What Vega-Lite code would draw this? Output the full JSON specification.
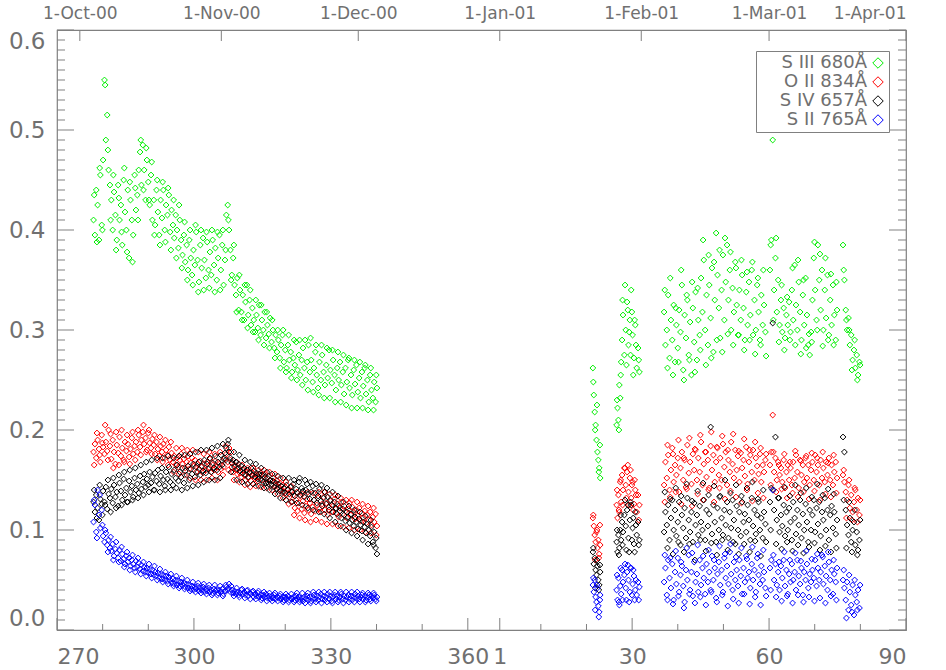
{
  "$schema": "https://vega.github.io/schema/vega-lite/v6.json",
  "width": 849,
  "height": 600,
  "autosize": {"type": "none"},
  "padding": {"left": 57, "top": 30, "right": 40, "bottom": 40},
  "background": "white",
  "config": {
    "view": {"stroke": "#808080", "strokeWidth": 1.2},
    "axis": {"grid": false, "domain": false, "ticks": false, "tickSize": 0, "labelFont": "DejaVu Sans", "labelColor": "#707070", "title": null}
  },
  "datasets": {
    "ymajor": [{"v":0},{"v":0.1},{"v":0.2},{"v":0.3},{"v":0.4},{"v":0.5},{"v":0.6}],
    "yminor": [{"v":0.01},{"v":0.02},{"v":0.03},{"v":0.04},{"v":0.05},{"v":0.06},{"v":0.07},{"v":0.08},{"v":0.09},
               {"v":0.11},{"v":0.12},{"v":0.13},{"v":0.14},{"v":0.15},{"v":0.16},{"v":0.17},{"v":0.18},{"v":0.19},
               {"v":0.21},{"v":0.22},{"v":0.23},{"v":0.24},{"v":0.25},{"v":0.26},{"v":0.27},{"v":0.28},{"v":0.29},
               {"v":0.31},{"v":0.32},{"v":0.33},{"v":0.34},{"v":0.35},{"v":0.36},{"v":0.37},{"v":0.38},{"v":0.39},
               {"v":0.41},{"v":0.42},{"v":0.43},{"v":0.44},{"v":0.45},{"v":0.46},{"v":0.47},{"v":0.48},{"v":0.49},
               {"v":0.51},{"v":0.52},{"v":0.53},{"v":0.54},{"v":0.55},{"v":0.56},{"v":0.57},{"v":0.58},{"v":0.59}],
    "xmajor": [{"day":270},{"day":300},{"day":330},{"day":360},{"day":367},{"day":396},{"day":426},{"day":456}],
    "xminor": [{"day":280},{"day":290},{"day":310},{"day":320},{"day":340},{"day":350},{"day":376},{"day":386},{"day":406},{"day":416},{"day":436},{"day":446}],
    "months": [{"day":275},{"day":306},{"day":336},{"day":367},{"day":398},{"day":426},{"day":456}],
    "obs": [
      {"day":278.0,"s3":0.41,"o2":0.178,"s4":0.128,"s2":0.108},
      {"day":278.15,"s3":0.435,"o2":0.165,"s4":0.14,"s2":0.13},
      {"day":278.3,"s3":0.395,"o2":0.186,"s4":0.118,"s2":0.125},
      {"day":278.6,"s3":0.44,"o2":0.172,"s4":0.135,"s2":0.098},
      {"day":278.75,"s3":0.388,"o2":0.197,"s4":0.112,"s2":0.092},
      {"day":278.9,"s3":0.425,"o2":0.19,"s4":0.122,"s2":0.14},
      {"day":279.2,"s3":0.39,"o2":0.181,"s4":0.11,"s2":0.115},
      {"day":279.35,"s3":0.462,"o2":0.175,"s4":0.145,"s2":0.135},
      {"day":279.5,"s3":0.455,"o2":0.168,"s4":0.131,"s2":0.102},
      {"day":279.8,"s3":0.405,"o2":0.195,"s4":0.126,"s2":0.12},
      {"day":279.95,"s3":0.4,"o2":0.187,"s4":0.115,"s2":0.105},
      {"day":280.1,"s3":0.47,"o2":0.183,"s4":0.139,"s2":0.094},
      {"day":280.4,"s3":0.55,"o2":0.176,"s4":0.128,"s2":0.088},
      {"day":280.55,"s3":0.545,"o2":0.205,"s4":0.125,"s2":0.1},
      {"day":280.7,"s3":0.49,"o2":0.188,"s4":0.143,"s2":0.097},
      {"day":281.0,"s3":0.515,"o2":0.179,"s4":0.121,"s2":0.085},
      {"day":281.15,"s3":0.48,"o2":0.17,"s4":0.15,"s2":0.078},
      {"day":281.3,"s3":0.46,"o2":0.2,"s4":0.136,"s2":0.09},
      {"day":281.6,"s3":0.445,"o2":0.184,"s4":0.132,"s2":0.082},
      {"day":281.75,"s3":0.41,"o2":0.196,"s4":0.118,"s2":0.093},
      {"day":281.9,"s3":0.43,"o2":0.171,"s4":0.141,"s2":0.079},
      {"day":282.2,"s3":0.4,"o2":0.19,"s4":0.127,"s2":0.086},
      {"day":282.35,"s3":0.455,"o2":0.162,"s4":0.152,"s2":0.07},
      {"day":282.5,"s3":0.438,"o2":0.178,"s4":0.145,"s2":0.074},
      {"day":282.8,"s3":0.415,"o2":0.166,"s4":0.133,"s2":0.081},
      {"day":282.95,"s3":0.38,"o2":0.198,"s4":0.122,"s2":0.088},
      {"day":283.1,"s3":0.39,"o2":0.185,"s4":0.138,"s2":0.077},
      {"day":283.4,"s3":0.445,"o2":0.177,"s4":0.124,"s2":0.072},
      {"day":283.55,"s3":0.432,"o2":0.165,"s4":0.155,"s2":0.068},
      {"day":283.7,"s3":0.41,"o2":0.193,"s4":0.147,"s2":0.08},
      {"day":284.0,"s3":0.425,"o2":0.174,"s4":0.139,"s2":0.069},
      {"day":284.15,"s3":0.398,"o2":0.2,"s4":0.125,"s2":0.083},
      {"day":284.3,"s3":0.385,"o2":0.182,"s4":0.13,"s2":0.076},
      {"day":284.6,"s3":0.45,"o2":0.17,"s4":0.151,"s2":0.071},
      {"day":284.75,"s3":0.462,"o2":0.168,"s4":0.158,"s2":0.063},
      {"day":284.9,"s3":0.418,"o2":0.188,"s4":0.135,"s2":0.066},
      {"day":285.2,"s3":0.4,"o2":0.179,"s4":0.142,"s2":0.074},
      {"day":285.35,"s3":0.378,"o2":0.195,"s4":0.128,"s2":0.078},
      {"day":285.5,"s3":0.44,"o2":0.186,"s4":0.128,"s2":0.068},
      {"day":285.8,"s3":0.372,"o2":0.173,"s4":0.149,"s2":0.072},
      {"day":285.95,"s3":0.448,"o2":0.166,"s4":0.16,"s2":0.06},
      {"day":286.1,"s3":0.43,"o2":0.181,"s4":0.138,"s2":0.064},
      {"day":286.4,"s3":0.41,"o2":0.192,"s4":0.144,"s2":0.07},
      {"day":286.55,"s3":0.368,"o2":0.198,"s4":0.13,"s2":0.075},
      {"day":286.7,"s3":0.395,"o2":0.176,"s4":0.133,"s2":0.066},
      {"day":287.0,"s3":0.455,"o2":0.184,"s4":0.152,"s2":0.062},
      {"day":287.15,"s3":0.442,"o2":0.17,"s4":0.162,"s2":0.058},
      {"day":287.3,"s3":0.42,"o2":0.188,"s4":0.14,"s2":0.069},
      {"day":287.6,"s3":0.435,"o2":0.178,"s4":0.146,"s2":0.063},
      {"day":287.75,"s3":0.41,"o2":0.2,"s4":0.132,"s2":0.072},
      {"day":287.9,"s3":0.46,"o2":0.195,"s4":0.137,"s2":0.067},
      {"day":288.2,"s3":0.478,"o2":0.183,"s4":0.154,"s2":0.061},
      {"day":288.35,"s3":0.49,"o2":0.175,"s4":0.165,"s2":0.056},
      {"day":288.5,"s3":0.445,"o2":0.19,"s4":0.141,"s2":0.065},
      {"day":288.8,"s3":0.485,"o2":0.198,"s4":0.148,"s2":0.059},
      {"day":288.95,"s3":0.44,"o2":0.205,"s4":0.135,"s2":0.068},
      {"day":289.1,"s3":0.46,"o2":0.186,"s4":0.156,"s2":0.063},
      {"day":289.4,"s3":0.43,"o2":0.192,"s4":0.143,"s2":0.058},
      {"day":289.55,"s3":0.482,"o2":0.178,"s4":0.168,"s2":0.054},
      {"day":289.7,"s3":0.47,"o2":0.18,"s4":0.151,"s2":0.062},
      {"day":290.0,"s3":0.448,"o2":0.197,"s4":0.145,"s2":0.057},
      {"day":290.15,"s3":0.43,"o2":0.2,"s4":0.138,"s2":0.066},
      {"day":290.3,"s3":0.425,"o2":0.187,"s4":0.158,"s2":0.061},
      {"day":290.6,"s3":0.455,"o2":0.182,"s4":0.147,"s2":0.056},
      {"day":290.75,"s3":0.468,"o2":0.176,"s4":0.17,"s2":0.052},
      {"day":290.9,"s3":0.41,"o2":0.191,"s4":0.153,"s2":0.06},
      {"day":291.2,"s3":0.43,"o2":0.185,"s4":0.14,"s2":0.055},
      {"day":291.35,"s3":0.395,"o2":0.195,"s4":0.14,"s2":0.064},
      {"day":291.5,"s3":0.405,"o2":0.176,"s4":0.157,"s2":0.058},
      {"day":291.8,"s3":0.44,"o2":0.188,"s4":0.149,"s2":0.054},
      {"day":291.95,"s3":0.45,"o2":0.17,"s4":0.172,"s2":0.05},
      {"day":292.1,"s3":0.418,"o2":0.181,"s4":0.16,"s2":0.057},
      {"day":292.4,"s3":0.395,"o2":0.174,"s4":0.146,"s2":0.052},
      {"day":292.55,"s3":0.385,"o2":0.193,"s4":0.138,"s2":0.061},
      {"day":292.7,"s3":0.43,"o2":0.184,"s4":0.154,"s2":0.056},
      {"day":293.0,"s3":0.412,"o2":0.178,"s4":0.162,"s2":0.051},
      {"day":293.15,"s3":0.448,"o2":0.168,"s4":0.172,"s2":0.048},
      {"day":293.3,"s3":0.44,"o2":0.186,"s4":0.15,"s2":0.055},
      {"day":293.6,"s3":0.4,"o2":0.172,"s4":0.144,"s2":0.05},
      {"day":293.75,"s3":0.388,"o2":0.19,"s4":0.14,"s2":0.058},
      {"day":293.9,"s3":0.425,"o2":0.18,"s4":0.158,"s2":0.054},
      {"day":294.2,"s3":0.415,"o2":0.175,"s4":0.151,"s2":0.049},
      {"day":294.35,"s3":0.442,"o2":0.165,"s4":0.174,"s2":0.046},
      {"day":294.5,"s3":0.435,"o2":0.183,"s4":0.163,"s2":0.053},
      {"day":294.8,"s3":0.398,"o2":0.17,"s4":0.148,"s2":0.05},
      {"day":294.95,"s3":0.38,"o2":0.188,"s4":0.14,"s2":0.056},
      {"day":295.1,"s3":0.42,"o2":0.177,"s4":0.156,"s2":0.047},
      {"day":295.4,"s3":0.405,"o2":0.168,"s4":0.145,"s2":0.051},
      {"day":295.55,"s3":0.43,"o2":0.158,"s4":0.172,"s2":0.044},
      {"day":295.7,"s3":0.392,"o2":0.174,"s4":0.16,"s2":0.046},
      {"day":296.0,"s3":0.415,"o2":0.165,"s4":0.152,"s2":0.05},
      {"day":296.15,"s3":0.372,"o2":0.182,"s4":0.142,"s2":0.054},
      {"day":296.3,"s3":0.4,"o2":0.172,"s4":0.165,"s2":0.045},
      {"day":296.6,"s3":0.382,"o2":0.163,"s4":0.149,"s2":0.049},
      {"day":296.75,"s3":0.425,"o2":0.156,"s4":0.174,"s2":0.042},
      {"day":296.9,"s3":0.41,"o2":0.17,"s4":0.158,"s2":0.044},
      {"day":297.2,"s3":0.39,"o2":0.176,"s4":0.153,"s2":0.048},
      {"day":297.35,"s3":0.362,"o2":0.182,"s4":0.14,"s2":0.052},
      {"day":297.5,"s3":0.375,"o2":0.166,"s4":0.162,"s2":0.045},
      {"day":297.8,"s3":0.395,"o2":0.171,"s4":0.147,"s2":0.047},
      {"day":297.95,"s3":0.408,"o2":0.155,"s4":0.175,"s2":0.041},
      {"day":298.1,"s3":0.368,"o2":0.162,"s4":0.159,"s2":0.043},
      {"day":298.4,"s3":0.385,"o2":0.168,"s4":0.155,"s2":0.046},
      {"day":298.55,"s3":0.35,"o2":0.18,"s4":0.142,"s2":0.05},
      {"day":298.7,"s3":0.36,"o2":0.174,"s4":0.164,"s2":0.042},
      {"day":299.0,"s3":0.39,"o2":0.161,"s4":0.15,"s2":0.045},
      {"day":299.15,"s3":0.4,"o2":0.152,"s4":0.176,"s2":0.039},
      {"day":299.3,"s3":0.372,"o2":0.167,"s4":0.161,"s2":0.041},
      {"day":299.6,"s3":0.355,"o2":0.172,"s4":0.156,"s2":0.044},
      {"day":299.75,"s3":0.345,"o2":0.18,"s4":0.144,"s2":0.048},
      {"day":299.9,"s3":0.38,"o2":0.164,"s4":0.166,"s2":0.04},
      {"day":300.2,"s3":0.365,"o2":0.17,"s4":0.153,"s2":0.043},
      {"day":300.35,"s3":0.405,"o2":0.15,"s4":0.178,"s2":0.038},
      {"day":300.5,"s3":0.398,"o2":0.158,"s4":0.163,"s2":0.041},
      {"day":300.8,"s3":0.37,"o2":0.166,"s4":0.158,"s2":0.044},
      {"day":300.95,"s3":0.338,"o2":0.178,"s4":0.145,"s2":0.047},
      {"day":301.1,"s3":0.348,"o2":0.161,"s4":0.168,"s2":0.039},
      {"day":301.4,"s3":0.385,"o2":0.169,"s4":0.155,"s2":0.042},
      {"day":301.55,"s3":0.4,"o2":0.15,"s4":0.18,"s2":0.037},
      {"day":301.7,"s3":0.362,"o2":0.163,"s4":0.164,"s2":0.04},
      {"day":302.0,"s3":0.392,"o2":0.157,"s4":0.159,"s2":0.043},
      {"day":302.15,"s3":0.34,"o2":0.176,"s4":0.148,"s2":0.046},
      {"day":302.3,"s3":0.37,"o2":0.166,"s4":0.17,"s2":0.038},
      {"day":302.6,"s3":0.352,"o2":0.16,"s4":0.157,"s2":0.041},
      {"day":302.75,"s3":0.398,"o2":0.15,"s4":0.18,"s2":0.036},
      {"day":302.9,"s3":0.388,"o2":0.168,"s4":0.166,"s2":0.039},
      {"day":303.2,"s3":0.36,"o2":0.162,"s4":0.161,"s2":0.042},
      {"day":303.35,"s3":0.342,"o2":0.178,"s4":0.15,"s2":0.045},
      {"day":303.5,"s3":0.378,"o2":0.171,"s4":0.172,"s2":0.038},
      {"day":303.8,"s3":0.355,"o2":0.158,"s4":0.158,"s2":0.04},
      {"day":303.95,"s3":0.4,"o2":0.152,"s4":0.182,"s2":0.035},
      {"day":304.1,"s3":0.39,"o2":0.165,"s4":0.167,"s2":0.037},
      {"day":304.4,"s3":0.365,"o2":0.16,"s4":0.162,"s2":0.041},
      {"day":304.55,"s3":0.338,"o2":0.176,"s4":0.15,"s2":0.045},
      {"day":304.7,"s3":0.382,"o2":0.169,"s4":0.174,"s2":0.039},
      {"day":305.0,"s3":0.35,"o2":0.163,"s4":0.16,"s2":0.04},
      {"day":305.15,"s3":0.398,"o2":0.15,"s4":0.184,"s2":0.035},
      {"day":305.3,"s3":0.372,"o2":0.158,"s4":0.168,"s2":0.037},
      {"day":305.6,"s3":0.395,"o2":0.166,"s4":0.163,"s2":0.04},
      {"day":305.75,"s3":0.34,"o2":0.178,"s4":0.152,"s2":0.044},
      {"day":305.9,"s3":0.36,"o2":0.161,"s4":0.175,"s2":0.038},
      {"day":306.2,"s3":0.385,"o2":0.169,"s4":0.165,"s2":0.041},
      {"day":306.35,"s3":0.4,"o2":0.155,"s4":0.186,"s2":0.034},
      {"day":306.5,"s3":0.345,"o2":0.163,"s4":0.171,"s2":0.036},
      {"day":306.8,"s3":0.37,"o2":0.172,"s4":0.177,"s2":0.039},
      {"day":306.95,"s3":0.38,"o2":0.184,"s4":0.17,"s2":0.045},
      {"day":307.1,"s3":0.415,"o2":0.176,"s4":0.182,"s2":0.043},
      {"day":307.4,"s3":0.425,"o2":0.168,"s4":0.186,"s2":0.04},
      {"day":307.55,"s3":0.41,"o2":0.16,"s4":0.19,"s2":0.042},
      {"day":307.7,"s3":0.4,"o2":0.182,"s4":0.178,"s2":0.046},
      {"day":308.0,"s3":0.38,"o2":0.17,"s4":0.172,"s2":0.038},
      {"day":308.15,"s3":0.35,"o2":0.178,"s4":0.158,"s2":0.044},
      {"day":308.3,"s3":0.355,"o2":0.163,"s4":0.167,"s2":0.04},
      {"day":308.6,"s3":0.372,"o2":0.158,"s4":0.17,"s2":0.037},
      {"day":308.75,"s3":0.385,"o2":0.15,"s4":0.178,"s2":0.034},
      {"day":308.9,"s3":0.345,"o2":0.165,"s4":0.163,"s2":0.039},
      {"day":309.2,"s3":0.335,"o2":0.16,"s4":0.168,"s2":0.036},
      {"day":309.35,"s3":0.318,"o2":0.168,"s4":0.15,"s2":0.042},
      {"day":309.5,"s3":0.352,"o2":0.156,"s4":0.161,"s2":0.038},
      {"day":309.8,"s3":0.32,"o2":0.162,"s4":0.166,"s2":0.035},
      {"day":309.95,"s3":0.355,"o2":0.148,"s4":0.175,"s2":0.033},
      {"day":310.1,"s3":0.34,"o2":0.157,"s4":0.159,"s2":0.037},
      {"day":310.4,"s3":0.318,"o2":0.153,"s4":0.164,"s2":0.04},
      {"day":310.55,"s3":0.31,"o2":0.165,"s4":0.148,"s2":0.041},
      {"day":310.7,"s3":0.335,"o2":0.16,"s4":0.157,"s2":0.036},
      {"day":311.0,"s3":0.31,"o2":0.155,"s4":0.162,"s2":0.038},
      {"day":311.15,"s3":0.345,"o2":0.145,"s4":0.17,"s2":0.032},
      {"day":311.3,"s3":0.328,"o2":0.15,"s4":0.155,"s2":0.035},
      {"day":311.6,"s3":0.345,"o2":0.158,"s4":0.16,"s2":0.039},
      {"day":311.75,"s3":0.302,"o2":0.162,"s4":0.146,"s2":0.04},
      {"day":311.9,"s3":0.315,"o2":0.152,"s4":0.153,"s2":0.034},
      {"day":312.2,"s3":0.33,"o2":0.157,"s4":0.158,"s2":0.037},
      {"day":312.35,"s3":0.34,"o2":0.143,"s4":0.168,"s2":0.031},
      {"day":312.5,"s3":0.305,"o2":0.149,"s4":0.162,"s2":0.036},
      {"day":312.8,"s3":0.322,"o2":0.154,"s4":0.155,"s2":0.038},
      {"day":312.95,"s3":0.298,"o2":0.162,"s4":0.146,"s2":0.039},
      {"day":313.1,"s3":0.31,"o2":0.156,"s4":0.159,"s2":0.033},
      {"day":313.4,"s3":0.298,"o2":0.151,"s4":0.153,"s2":0.036},
      {"day":313.55,"s3":0.33,"o2":0.144,"s4":0.166,"s2":0.031},
      {"day":313.7,"s3":0.315,"o2":0.155,"s4":0.157,"s2":0.034},
      {"day":314.0,"s3":0.302,"o2":0.149,"s4":0.151,"s2":0.037},
      {"day":314.15,"s3":0.29,"o2":0.16,"s4":0.144,"s2":0.039},
      {"day":314.3,"s3":0.325,"o2":0.153,"s4":0.156,"s2":0.033},
      {"day":314.6,"s3":0.295,"o2":0.157,"s4":0.15,"s2":0.035},
      {"day":314.75,"s3":0.325,"o2":0.143,"s4":0.162,"s2":0.03},
      {"day":314.9,"s3":0.31,"o2":0.15,"s4":0.155,"s2":0.032},
      {"day":315.2,"s3":0.3,"o2":0.154,"s4":0.148,"s2":0.035},
      {"day":315.35,"s3":0.285,"o2":0.16,"s4":0.142,"s2":0.038},
      {"day":315.5,"s3":0.318,"o2":0.156,"s4":0.153,"s2":0.033},
      {"day":315.8,"s3":0.292,"o2":0.151,"s4":0.147,"s2":0.036},
      {"day":315.95,"s3":0.318,"o2":0.142,"s4":0.158,"s2":0.029},
      {"day":316.1,"s3":0.305,"o2":0.148,"s4":0.152,"s2":0.032},
      {"day":316.4,"s3":0.296,"o2":0.154,"s4":0.146,"s2":0.034},
      {"day":316.55,"s3":0.282,"o2":0.158,"s4":0.14,"s2":0.037},
      {"day":316.7,"s3":0.312,"o2":0.15,"s4":0.15,"s2":0.031},
      {"day":317.0,"s3":0.288,"o2":0.146,"s4":0.145,"s2":0.034},
      {"day":317.15,"s3":0.31,"o2":0.14,"s4":0.156,"s2":0.029},
      {"day":317.3,"s3":0.3,"o2":0.152,"s4":0.149,"s2":0.032},
      {"day":317.6,"s3":0.282,"o2":0.148,"s4":0.143,"s2":0.035},
      {"day":317.75,"s3":0.272,"o2":0.156,"s4":0.136,"s2":0.037},
      {"day":317.9,"s3":0.295,"o2":0.144,"s4":0.147,"s2":0.031},
      {"day":318.2,"s3":0.278,"o2":0.149,"s4":0.141,"s2":0.033},
      {"day":318.35,"s3":0.3,"o2":0.136,"s4":0.154,"s2":0.029},
      {"day":318.5,"s3":0.29,"o2":0.143,"s4":0.146,"s2":0.032},
      {"day":318.8,"s3":0.272,"o2":0.147,"s4":0.139,"s2":0.034},
      {"day":318.95,"s3":0.262,"o2":0.152,"s4":0.132,"s2":0.036},
      {"day":319.1,"s3":0.285,"o2":0.14,"s4":0.144,"s2":0.031},
      {"day":319.4,"s3":0.295,"o2":0.145,"s4":0.138,"s2":0.033},
      {"day":319.55,"s3":0.3,"o2":0.132,"s4":0.152,"s2":0.028},
      {"day":319.7,"s3":0.268,"o2":0.138,"s4":0.142,"s2":0.03},
      {"day":320.0,"s3":0.28,"o2":0.143,"s4":0.137,"s2":0.033},
      {"day":320.15,"s3":0.258,"o2":0.148,"s4":0.13,"s2":0.036},
      {"day":320.3,"s3":0.262,"o2":0.136,"s4":0.145,"s2":0.031},
      {"day":320.6,"s3":0.285,"o2":0.141,"s4":0.14,"s2":0.034},
      {"day":320.75,"s3":0.295,"o2":0.126,"s4":0.152,"s2":0.028},
      {"day":320.9,"s3":0.27,"o2":0.133,"s4":0.136,"s2":0.03},
      {"day":321.2,"s3":0.278,"o2":0.139,"s4":0.143,"s2":0.032},
      {"day":321.35,"s3":0.252,"o2":0.144,"s4":0.128,"s2":0.036},
      {"day":321.5,"s3":0.258,"o2":0.128,"s4":0.138,"s2":0.031},
      {"day":321.8,"s3":0.272,"o2":0.135,"s4":0.146,"s2":0.033},
      {"day":321.95,"s3":0.29,"o2":0.115,"s4":0.15,"s2":0.028},
      {"day":322.1,"s3":0.265,"o2":0.122,"s4":0.134,"s2":0.03},
      {"day":322.4,"s3":0.288,"o2":0.13,"s4":0.141,"s2":0.034},
      {"day":322.55,"s3":0.25,"o2":0.138,"s4":0.127,"s2":0.037},
      {"day":322.7,"s3":0.26,"o2":0.119,"s4":0.137,"s2":0.031},
      {"day":323.0,"s3":0.275,"o2":0.127,"s4":0.148,"s2":0.033},
      {"day":323.15,"s3":0.29,"o2":0.112,"s4":0.152,"s2":0.028},
      {"day":323.3,"s3":0.255,"o2":0.134,"s4":0.135,"s2":0.03},
      {"day":323.6,"s3":0.27,"o2":0.121,"s4":0.142,"s2":0.032},
      {"day":323.75,"s3":0.245,"o2":0.136,"s4":0.125,"s2":0.037},
      {"day":323.9,"s3":0.282,"o2":0.129,"s4":0.139,"s2":0.029},
      {"day":324.2,"s3":0.262,"o2":0.117,"s4":0.133,"s2":0.033},
      {"day":324.35,"s3":0.29,"o2":0.11,"s4":0.15,"s2":0.027},
      {"day":324.5,"s3":0.25,"o2":0.124,"s4":0.14,"s2":0.031},
      {"day":324.8,"s3":0.268,"o2":0.131,"s4":0.146,"s2":0.034},
      {"day":324.95,"s3":0.24,"o2":0.138,"s4":0.122,"s2":0.037},
      {"day":325.1,"s3":0.285,"o2":0.12,"s4":0.136,"s2":0.03},
      {"day":325.4,"s3":0.258,"o2":0.127,"s4":0.131,"s2":0.033},
      {"day":325.55,"s3":0.292,"o2":0.108,"s4":0.148,"s2":0.027},
      {"day":325.7,"s3":0.27,"o2":0.116,"s4":0.138,"s2":0.029},
      {"day":326.0,"s3":0.248,"o2":0.123,"s4":0.144,"s2":0.032},
      {"day":326.15,"s3":0.238,"o2":0.137,"s4":0.12,"s2":0.038},
      {"day":326.3,"s3":0.262,"o2":0.13,"s4":0.13,"s2":0.035},
      {"day":326.6,"s3":0.278,"o2":0.119,"s4":0.137,"s2":0.031},
      {"day":326.75,"s3":0.285,"o2":0.11,"s4":0.146,"s2":0.028},
      {"day":326.9,"s3":0.255,"o2":0.125,"s4":0.127,"s2":0.034},
      {"day":327.2,"s3":0.242,"o2":0.132,"s4":0.134,"s2":0.03},
      {"day":327.35,"s3":0.235,"o2":0.138,"s4":0.118,"s2":0.038},
      {"day":327.5,"s3":0.268,"o2":0.121,"s4":0.141,"s2":0.033},
      {"day":327.8,"s3":0.25,"o2":0.118,"s4":0.129,"s2":0.036},
      {"day":327.95,"s3":0.285,"o2":0.108,"s4":0.145,"s2":0.027},
      {"day":328.1,"s3":0.275,"o2":0.126,"s4":0.124,"s2":0.031},
      {"day":328.4,"s3":0.258,"o2":0.133,"s4":0.132,"s2":0.034},
      {"day":328.55,"s3":0.232,"o2":0.138,"s4":0.116,"s2":0.038},
      {"day":328.7,"s3":0.245,"o2":0.12,"s4":0.138,"s2":0.03},
      {"day":329.0,"s3":0.265,"o2":0.127,"s4":0.126,"s2":0.033},
      {"day":329.15,"s3":0.282,"o2":0.106,"s4":0.142,"s2":0.028},
      {"day":329.3,"s3":0.252,"o2":0.115,"s4":0.133,"s2":0.036},
      {"day":329.6,"s3":0.28,"o2":0.123,"s4":0.12,"s2":0.031},
      {"day":329.75,"s3":0.232,"o2":0.136,"s4":0.112,"s2":0.038},
      {"day":329.9,"s3":0.26,"o2":0.129,"s4":0.13,"s2":0.034},
      {"day":330.2,"s3":0.247,"o2":0.118,"s4":0.125,"s2":0.029},
      {"day":330.35,"s3":0.28,"o2":0.106,"s4":0.138,"s2":0.027},
      {"day":330.5,"s3":0.27,"o2":0.124,"s4":0.118,"s2":0.033},
      {"day":330.8,"s3":0.255,"o2":0.131,"s4":0.128,"s2":0.035},
      {"day":330.95,"s3":0.228,"o2":0.135,"s4":0.108,"s2":0.038},
      {"day":331.1,"s3":0.24,"o2":0.117,"s4":0.122,"s2":0.031},
      {"day":331.4,"s3":0.262,"o2":0.126,"s4":0.116,"s2":0.034},
      {"day":331.55,"s3":0.278,"o2":0.104,"s4":0.134,"s2":0.028},
      {"day":331.7,"s3":0.25,"o2":0.113,"s4":0.124,"s2":0.03},
      {"day":332.0,"s3":0.268,"o2":0.122,"s4":0.119,"s2":0.033},
      {"day":332.15,"s3":0.228,"o2":0.132,"s4":0.104,"s2":0.038},
      {"day":332.3,"s3":0.245,"o2":0.128,"s4":0.112,"s2":0.036},
      {"day":332.6,"s3":0.258,"o2":0.116,"s4":0.121,"s2":0.031},
      {"day":332.75,"s3":0.275,"o2":0.103,"s4":0.128,"s2":0.027},
      {"day":332.9,"s3":0.236,"o2":0.124,"s4":0.115,"s2":0.034},
      {"day":333.2,"s3":0.262,"o2":0.119,"s4":0.109,"s2":0.03},
      {"day":333.35,"s3":0.225,"o2":0.13,"s4":0.1,"s2":0.038},
      {"day":333.5,"s3":0.248,"o2":0.112,"s4":0.118,"s2":0.033},
      {"day":333.8,"s3":0.27,"o2":0.121,"s4":0.113,"s2":0.035},
      {"day":333.95,"s3":0.272,"o2":0.102,"s4":0.124,"s2":0.028},
      {"day":334.1,"s3":0.242,"o2":0.127,"s4":0.107,"s2":0.031},
      {"day":334.4,"s3":0.255,"o2":0.115,"s4":0.116,"s2":0.034},
      {"day":334.55,"s3":0.222,"o2":0.13,"s4":0.097,"s2":0.038},
      {"day":334.7,"s3":0.235,"o2":0.123,"s4":0.11,"s2":0.03},
      {"day":335.0,"s3":0.26,"o2":0.118,"s4":0.104,"s2":0.033},
      {"day":335.15,"s3":0.27,"o2":0.1,"s4":0.12,"s2":0.028},
      {"day":335.3,"s3":0.246,"o2":0.111,"s4":0.113,"s2":0.036},
      {"day":335.6,"s3":0.265,"o2":0.12,"s4":0.108,"s2":0.032},
      {"day":335.75,"s3":0.222,"o2":0.128,"s4":0.094,"s2":0.038},
      {"day":335.9,"s3":0.238,"o2":0.114,"s4":0.101,"s2":0.034},
      {"day":336.2,"s3":0.252,"o2":0.122,"s4":0.111,"s2":0.031},
      {"day":336.35,"s3":0.268,"o2":0.1,"s4":0.118,"s2":0.028},
      {"day":336.5,"s3":0.232,"o2":0.109,"s4":0.105,"s2":0.033},
      {"day":336.8,"s3":0.258,"o2":0.117,"s4":0.099,"s2":0.035},
      {"day":336.95,"s3":0.222,"o2":0.126,"s4":0.09,"s2":0.037},
      {"day":337.1,"s3":0.244,"o2":0.112,"s4":0.108,"s2":0.031},
      {"day":337.4,"s3":0.262,"o2":0.119,"s4":0.103,"s2":0.034},
      {"day":337.55,"s3":0.265,"o2":0.098,"s4":0.114,"s2":0.028},
      {"day":337.7,"s3":0.236,"o2":0.107,"s4":0.097,"s2":0.03},
      {"day":338.0,"s3":0.25,"o2":0.115,"s4":0.106,"s2":0.033},
      {"day":338.15,"s3":0.22,"o2":0.124,"s4":0.086,"s2":0.037},
      {"day":338.3,"s3":0.228,"o2":0.11,"s4":0.1,"s2":0.035},
      {"day":338.6,"s3":0.255,"o2":0.118,"s4":0.094,"s2":0.031},
      {"day":338.75,"s3":0.262,"o2":0.097,"s4":0.11,"s2":0.029},
      {"day":338.9,"s3":0.24,"o2":0.105,"s4":0.103,"s2":0.034},
      {"day":339.2,"s3":0.232,"o2":0.113,"s4":0.088,"s2":0.032},
      {"day":339.35,"s3":0.22,"o2":0.122,"s4":0.085,"s2":0.037},
      {"day":339.5,"s3":0.248,"o2":0.108,"s4":0.098,"s2":0.035},
      {"day":339.8,"s3":0.228,"o2":0.116,"s4":0.082,"s2":0.031},
      {"day":339.95,"s3":0.255,"o2":0.095,"s4":0.092,"s2":0.029},
      {"day":340.1,"s3":0.242,"o2":0.104,"s4":0.076,"s2":0.033},
      {"day":387.4,"s3":0.262,"o2":0.112,"s4":0.078,"s2":0.045},
      {"day":387.5,"s3":0.248,"o2":0.115,"s4":0.082,"s2":0.052},
      {"day":387.6,"s3":0.235,"o2":0.104,"s4":0.066,"s2":0.038},
      {"day":387.8,"s3":0.218,"o2":0.095,"s4":0.072,"s2":0.05},
      {"day":387.9,"s3":0.2,"o2":0.07,"s4":0.042,"s2":0.02},
      {"day":388.0,"s3":0.205,"o2":0.088,"s4":0.06,"s2":0.033},
      {"day":388.2,"s3":0.19,"o2":0.098,"s4":0.055,"s2":0.028},
      {"day":388.3,"s3":0.225,"o2":0.1,"s4":0.07,"s2":0.045},
      {"day":388.4,"s3":0.178,"o2":0.082,"s4":0.064,"s2":0.042},
      {"day":388.6,"s3":0.17,"o2":0.09,"s4":0.05,"s2":0.024},
      {"day":388.7,"s3":0.158,"o2":0.072,"s4":0.04,"s2":0.013},
      {"day":388.8,"s3":0.162,"o2":0.076,"s4":0.045,"s2":0.018},
      {"day":388.95,"s3":0.185,"o2":0.105,"s4":0.065,"s2":0.03},
      {"day":389.0,"s3":0.152,"o2":0.085,"s4":0.058,"s2":0.035},
      {"day":392.6,"s3":0.205,"o2":0.125,"s4":0.088,"s2":0.04},
      {"day":392.7,"s3":0.23,"o2":0.14,"s4":0.1,"s2":0.055},
      {"day":392.8,"s3":0.222,"o2":0.112,"s4":0.078,"s2":0.03},
      {"day":393.0,"s3":0.21,"o2":0.135,"s4":0.095,"s2":0.052},
      {"day":393.1,"s3":0.2,"o2":0.12,"s4":0.075,"s2":0.028},
      {"day":393.2,"s3":0.245,"o2":0.118,"s4":0.082,"s2":0.025},
      {"day":393.4,"s3":0.232,"o2":0.148,"s4":0.1,"s2":0.044},
      {"day":393.5,"s3":0.255,"o2":0.15,"s4":0.115,"s2":0.062},
      {"day":393.6,"s3":0.268,"o2":0.128,"s4":0.09,"s2":0.036},
      {"day":393.8,"s3":0.29,"o2":0.155,"s4":0.108,"s2":0.06},
      {"day":393.9,"s3":0.33,"o2":0.125,"s4":0.085,"s2":0.03},
      {"day":394.0,"s3":0.315,"o2":0.14,"s4":0.098,"s2":0.048},
      {"day":394.3,"s3":0.275,"o2":0.162,"s4":0.115,"s2":0.055},
      {"day":394.45,"s3":0.345,"o2":0.162,"s4":0.13,"s2":0.066},
      {"day":394.6,"s3":0.3,"o2":0.145,"s4":0.104,"s2":0.042},
      {"day":394.75,"s3":0.265,"o2":0.132,"s4":0.08,"s2":0.03},
      {"day":394.9,"s3":0.328,"o2":0.158,"s4":0.12,"s2":0.058},
      {"day":395.05,"s3":0.32,"o2":0.165,"s4":0.125,"s2":0.065},
      {"day":395.2,"s3":0.285,"o2":0.138,"s4":0.092,"s2":0.05},
      {"day":395.35,"s3":0.298,"o2":0.125,"s4":0.078,"s2":0.028},
      {"day":395.5,"s3":0.31,"o2":0.152,"s4":0.11,"s2":0.038},
      {"day":395.65,"s3":0.275,"o2":0.16,"s4":0.128,"s2":0.062},
      {"day":395.8,"s3":0.34,"o2":0.132,"s4":0.125,"s2":0.062},
      {"day":395.95,"s3":0.318,"o2":0.145,"s4":0.09,"s2":0.035},
      {"day":396.1,"s3":0.295,"o2":0.148,"s4":0.102,"s2":0.046},
      {"day":396.25,"s3":0.255,"o2":0.12,"s4":0.112,"s2":0.06},
      {"day":396.4,"s3":0.272,"o2":0.126,"s4":0.086,"s2":0.054},
      {"day":396.55,"s3":0.31,"o2":0.15,"s4":0.078,"s2":0.03},
      {"day":396.7,"s3":0.305,"o2":0.14,"s4":0.118,"s2":0.04},
      {"day":396.85,"s3":0.285,"o2":0.135,"s4":0.105,"s2":0.05},
      {"day":397.0,"s3":0.262,"o2":0.118,"s4":0.095,"s2":0.035},
      {"day":397.3,"s3":0.282,"o2":0.135,"s4":0.108,"s2":0.048},
      {"day":397.45,"s3":0.27,"o2":0.11,"s4":0.085,"s2":0.03},
      {"day":397.6,"s3":0.258,"o2":0.125,"s4":0.09,"s2":0.043},
      {"day":403.0,"s3":0.318,"o2":0.145,"s4":0.098,"s2":0.048},
      {"day":403.15,"s3":0.34,"o2":0.128,"s4":0.138,"s2":0.075},
      {"day":403.3,"s3":0.285,"o2":0.168,"s4":0.118,"s2":0.062},
      {"day":403.6,"s3":0.3,"o2":0.152,"s4":0.105,"s2":0.035},
      {"day":403.75,"s3":0.262,"o2":0.185,"s4":0.082,"s2":0.03},
      {"day":403.9,"s3":0.335,"o2":0.175,"s4":0.125,"s2":0.07},
      {"day":404.2,"s3":0.272,"o2":0.14,"s4":0.09,"s2":0.052},
      {"day":404.35,"s3":0.352,"o2":0.133,"s4":0.131,"s2":0.072},
      {"day":404.5,"s3":0.31,"o2":0.16,"s4":0.112,"s2":0.042},
      {"day":404.8,"s3":0.29,"o2":0.182,"s4":0.13,"s2":0.066},
      {"day":404.95,"s3":0.255,"o2":0.176,"s4":0.076,"s2":0.026},
      {"day":405.1,"s3":0.325,"o2":0.148,"s4":0.1,"s2":0.03},
      {"day":405.4,"s3":0.268,"o2":0.165,"s4":0.12,"s2":0.058},
      {"day":405.55,"s3":0.322,"o2":0.138,"s4":0.142,"s2":0.079},
      {"day":405.7,"s3":0.305,"o2":0.155,"s4":0.094,"s2":0.046},
      {"day":406.0,"s3":0.282,"o2":0.172,"s4":0.108,"s2":0.072},
      {"day":406.15,"s3":0.268,"o2":0.19,"s4":0.088,"s2":0.034},
      {"day":406.3,"s3":0.32,"o2":0.138,"s4":0.128,"s2":0.038},
      {"day":406.6,"s3":0.298,"o2":0.162,"s4":0.085,"s2":0.055},
      {"day":406.75,"s3":0.36,"o2":0.126,"s4":0.134,"s2":0.068},
      {"day":406.9,"s3":0.345,"o2":0.178,"s4":0.115,"s2":0.064},
      {"day":407.2,"s3":0.26,"o2":0.15,"s4":0.102,"s2":0.044},
      {"day":407.35,"s3":0.25,"o2":0.172,"s4":0.078,"s2":0.022},
      {"day":407.5,"s3":0.315,"o2":0.17,"s4":0.122,"s2":0.028},
      {"day":407.8,"s3":0.292,"o2":0.143,"s4":0.092,"s2":0.06},
      {"day":407.95,"s3":0.335,"o2":0.141,"s4":0.146,"s2":0.082},
      {"day":408.1,"s3":0.33,"o2":0.185,"s4":0.132,"s2":0.05},
      {"day":408.4,"s3":0.275,"o2":0.157,"s4":0.11,"s2":0.075},
      {"day":408.55,"s3":0.27,"o2":0.192,"s4":0.086,"s2":0.036},
      {"day":408.7,"s3":0.308,"o2":0.168,"s4":0.098,"s2":0.04},
      {"day":409.0,"s3":0.255,"o2":0.146,"s4":0.118,"s2":0.058},
      {"day":409.15,"s3":0.348,"o2":0.124,"s4":0.129,"s2":0.077},
      {"day":409.3,"s3":0.322,"o2":0.176,"s4":0.088,"s2":0.034},
      {"day":409.6,"s3":0.288,"o2":0.16,"s4":0.127,"s2":0.068},
      {"day":409.75,"s3":0.258,"o2":0.181,"s4":0.07,"s2":0.027},
      {"day":409.9,"s3":0.338,"o2":0.18,"s4":0.105,"s2":0.048},
      {"day":410.2,"s3":0.27,"o2":0.15,"s4":0.115,"s2":0.056},
      {"day":410.35,"s3":0.342,"o2":0.136,"s4":0.139,"s2":0.085},
      {"day":410.5,"s3":0.31,"o2":0.172,"s4":0.095,"s2":0.038},
      {"day":410.8,"s3":0.295,"o2":0.158,"s4":0.124,"s2":0.07},
      {"day":410.95,"s3":0.28,"o2":0.195,"s4":0.09,"s2":0.033},
      {"day":411.1,"s3":0.352,"o2":0.188,"s4":0.108,"s2":0.045},
      {"day":411.4,"s3":0.318,"o2":0.145,"s4":0.1,"s2":0.062},
      {"day":411.55,"s3":0.39,"o2":0.13,"s4":0.147,"s2":0.074},
      {"day":411.7,"s3":0.37,"o2":0.166,"s4":0.13,"s2":0.052},
      {"day":412.0,"s3":0.3,"o2":0.178,"s4":0.09,"s2":0.036},
      {"day":412.15,"s3":0.265,"o2":0.178,"s4":0.079,"s2":0.025},
      {"day":412.3,"s3":0.335,"o2":0.153,"s4":0.12,"s2":0.066},
      {"day":412.6,"s3":0.285,"o2":0.17,"s4":0.104,"s2":0.048},
      {"day":412.75,"s3":0.375,"o2":0.14,"s4":0.135,"s2":0.08},
      {"day":412.9,"s3":0.345,"o2":0.142,"s4":0.116,"s2":0.058},
      {"day":413.2,"s3":0.312,"o2":0.184,"s4":0.203,"s2":0.04},
      {"day":413.35,"s3":0.272,"o2":0.198,"s4":0.087,"s2":0.038},
      {"day":413.5,"s3":0.362,"o2":0.16,"s4":0.096,"s2":0.074},
      {"day":413.8,"s3":0.278,"o2":0.175,"s4":0.125,"s2":0.05},
      {"day":413.95,"s3":0.368,"o2":0.128,"s4":0.144,"s2":0.07},
      {"day":414.1,"s3":0.33,"o2":0.148,"s4":0.108,"s2":0.062},
      {"day":414.4,"s3":0.397,"o2":0.168,"s4":0.088,"s2":0.032},
      {"day":414.55,"s3":0.29,"o2":0.183,"s4":0.075,"s2":0.028},
      {"day":414.7,"s3":0.355,"o2":0.182,"s4":0.122,"s2":0.056},
      {"day":415.0,"s3":0.322,"o2":0.155,"s4":0.1,"s2":0.068},
      {"day":415.15,"s3":0.38,"o2":0.142,"s4":0.133,"s2":0.084},
      {"day":415.3,"s3":0.292,"o2":0.172,"s4":0.134,"s2":0.045},
      {"day":415.6,"s3":0.34,"o2":0.15,"s4":0.112,"s2":0.06},
      {"day":415.75,"s3":0.278,"o2":0.194,"s4":0.09,"s2":0.035},
      {"day":415.9,"s3":0.375,"o2":0.186,"s4":0.095,"s2":0.038},
      {"day":416.2,"s3":0.31,"o2":0.163,"s4":0.12,"s2":0.072},
      {"day":416.35,"s3":0.392,"o2":0.131,"s4":0.15,"s2":0.076},
      {"day":416.5,"s3":0.348,"o2":0.178,"s4":0.105,"s2":0.052},
      {"day":416.8,"s3":0.385,"o2":0.145,"s4":0.128,"s2":0.064},
      {"day":416.95,"s3":0.296,"o2":0.18,"s4":0.08,"s2":0.024},
      {"day":417.1,"s3":0.33,"o2":0.17,"s4":0.092,"s2":0.046},
      {"day":417.4,"s3":0.36,"o2":0.158,"s4":0.118,"s2":0.078},
      {"day":417.55,"s3":0.378,"o2":0.139,"s4":0.137,"s2":0.086},
      {"day":417.7,"s3":0.3,"o2":0.188,"s4":0.102,"s2":0.056},
      {"day":418.0,"s3":0.342,"o2":0.166,"s4":0.13,"s2":0.04},
      {"day":418.15,"s3":0.285,"o2":0.196,"s4":0.088,"s2":0.031},
      {"day":418.3,"s3":0.318,"o2":0.152,"s4":0.11,"s2":0.068},
      {"day":418.6,"s3":0.368,"o2":0.18,"s4":0.086,"s2":0.05},
      {"day":418.75,"s3":0.362,"o2":0.133,"s4":0.145,"s2":0.073},
      {"day":418.9,"s3":0.325,"o2":0.16,"s4":0.124,"s2":0.06},
      {"day":419.2,"s3":0.295,"o2":0.174,"s4":0.1,"s2":0.044},
      {"day":419.35,"s3":0.295,"o2":0.179,"s4":0.076,"s2":0.027},
      {"day":419.5,"s3":0.34,"o2":0.148,"s4":0.118,"s2":0.07},
      {"day":419.8,"s3":0.31,"o2":0.177,"s4":0.094,"s2":0.054},
      {"day":419.95,"s3":0.37,"o2":0.127,"s4":0.134,"s2":0.082},
      {"day":420.1,"s3":0.355,"o2":0.162,"s4":0.128,"s2":0.036},
      {"day":420.4,"s3":0.322,"o2":0.17,"s4":0.108,"s2":0.062},
      {"day":420.55,"s3":0.28,"o2":0.191,"s4":0.086,"s2":0.036},
      {"day":420.7,"s3":0.29,"o2":0.154,"s4":0.116,"s2":0.048},
      {"day":421.0,"s3":0.338,"o2":0.183,"s4":0.098,"s2":0.074},
      {"day":421.15,"s3":0.358,"o2":0.14,"s4":0.142,"s2":0.071},
      {"day":421.3,"s3":0.305,"o2":0.146,"s4":0.125,"s2":0.052},
      {"day":421.6,"s3":0.348,"o2":0.168,"s4":0.11,"s2":0.058},
      {"day":421.75,"s3":0.29,"o2":0.18,"s4":0.078,"s2":0.026},
      {"day":421.9,"s3":0.315,"o2":0.175,"s4":0.09,"s2":0.042},
      {"day":422.2,"s3":0.36,"o2":0.158,"s4":0.132,"s2":0.066},
      {"day":422.35,"s3":0.368,"o2":0.129,"s4":0.148,"s2":0.083},
      {"day":422.5,"s3":0.295,"o2":0.18,"s4":0.104,"s2":0.05},
      {"day":422.8,"s3":0.33,"o2":0.15,"s4":0.12,"s2":0.06},
      {"day":422.95,"s3":0.276,"o2":0.188,"s4":0.089,"s2":0.033},
      {"day":423.1,"s3":0.3,"o2":0.172,"s4":0.096,"s2":0.038},
      {"day":423.4,"s3":0.345,"o2":0.164,"s4":0.115,"s2":0.072},
      {"day":423.55,"s3":0.352,"o2":0.137,"s4":0.131,"s2":0.076},
      {"day":423.7,"s3":0.318,"o2":0.156,"s4":0.128,"s2":0.055},
      {"day":424.0,"s3":0.29,"o2":0.176,"s4":0.1,"s2":0.046},
      {"day":424.15,"s3":0.285,"o2":0.182,"s4":0.074,"s2":0.025},
      {"day":424.3,"s3":0.335,"o2":0.148,"s4":0.112,"s2":0.064},
      {"day":424.6,"s3":0.305,"o2":0.165,"s4":0.092,"s2":0.05},
      {"day":424.75,"s3":0.36,"o2":0.132,"s4":0.14,"s2":0.08},
      {"day":424.9,"s3":0.325,"o2":0.158,"s4":0.118,"s2":0.058},
      {"day":425.2,"s3":0.298,"o2":0.17,"s4":0.106,"s2":0.042},
      {"day":425.35,"s3":0.274,"o2":0.176,"s4":0.088,"s2":0.034},
      {"day":426.2,"s3":0.36,"o2":0.165,"s4":0.128,"s2":0.062},
      {"day":426.35,"s3":0.385,"o2":0.145,"s4":0.1,"s2":0.04},
      {"day":426.5,"s3":0.39,"o2":0.178,"s4":0.142,"s2":0.07},
      {"day":426.8,"s3":0.49,"o2":0.215,"s4":0.307,"s2":0.14},
      {"day":426.95,"s3":0.31,"o2":0.178,"s4":0.14,"s2":0.075},
      {"day":427.1,"s3":0.34,"o2":0.158,"s4":0.12,"s2":0.05},
      {"day":427.4,"s3":0.372,"o2":0.172,"s4":0.193,"s2":0.066},
      {"day":427.55,"s3":0.392,"o2":0.138,"s4":0.086,"s2":0.033},
      {"day":427.7,"s3":0.318,"o2":0.15,"s4":0.11,"s2":0.045},
      {"day":428.0,"s3":0.35,"o2":0.168,"s4":0.132,"s2":0.058},
      {"day":428.15,"s3":0.288,"o2":0.165,"s4":0.132,"s2":0.068},
      {"day":428.3,"s3":0.305,"o2":0.155,"s4":0.098,"s2":0.04},
      {"day":428.6,"s3":0.33,"o2":0.162,"s4":0.115,"s2":0.064},
      {"day":428.75,"s3":0.345,"o2":0.141,"s4":0.081,"s2":0.029},
      {"day":428.9,"s3":0.298,"o2":0.148,"s4":0.104,"s2":0.052},
      {"day":429.2,"s3":0.322,"o2":0.17,"s4":0.125,"s2":0.07},
      {"day":429.35,"s3":0.28,"o2":0.176,"s4":0.143,"s2":0.078},
      {"day":429.5,"s3":0.292,"o2":0.142,"s4":0.094,"s2":0.044},
      {"day":429.8,"s3":0.315,"o2":0.158,"s4":0.118,"s2":0.06},
      {"day":429.95,"s3":0.333,"o2":0.132,"s4":0.088,"s2":0.034},
      {"day":430.1,"s3":0.305,"o2":0.165,"s4":0.1,"s2":0.036},
      {"day":430.4,"s3":0.328,"o2":0.15,"s4":0.122,"s2":0.056},
      {"day":430.55,"s3":0.29,"o2":0.168,"s4":0.134,"s2":0.07},
      {"day":430.7,"s3":0.298,"o2":0.162,"s4":0.108,"s2":0.048},
      {"day":431.0,"s3":0.34,"o2":0.145,"s4":0.09,"s2":0.066},
      {"day":431.15,"s3":0.362,"o2":0.137,"s4":0.079,"s2":0.027},
      {"day":431.3,"s3":0.31,"o2":0.168,"s4":0.128,"s2":0.05},
      {"day":431.6,"s3":0.365,"o2":0.152,"s4":0.112,"s2":0.058},
      {"day":431.75,"s3":0.285,"o2":0.179,"s4":0.145,"s2":0.077},
      {"day":431.9,"s3":0.325,"o2":0.175,"s4":0.096,"s2":0.04},
      {"day":432.2,"s3":0.3,"o2":0.158,"s4":0.12,"s2":0.07},
      {"day":432.35,"s3":0.37,"o2":0.133,"s4":0.085,"s2":0.035},
      {"day":432.5,"s3":0.348,"o2":0.142,"s4":0.105,"s2":0.054},
      {"day":432.8,"s3":0.318,"o2":0.17,"s4":0.13,"s2":0.046},
      {"day":432.95,"s3":0.276,"o2":0.169,"s4":0.137,"s2":0.069},
      {"day":433.1,"s3":0.29,"o2":0.155,"s4":0.092,"s2":0.062},
      {"day":433.4,"s3":0.335,"o2":0.165,"s4":0.116,"s2":0.035},
      {"day":433.55,"s3":0.35,"o2":0.138,"s4":0.077,"s2":0.028},
      {"day":433.7,"s3":0.305,"o2":0.148,"s4":0.1,"s2":0.058},
      {"day":434.0,"s3":0.352,"o2":0.172,"s4":0.126,"s2":0.05},
      {"day":434.15,"s3":0.282,"o2":0.174,"s4":0.142,"s2":0.079},
      {"day":434.3,"s3":0.315,"o2":0.152,"s4":0.108,"s2":0.066},
      {"day":434.6,"s3":0.285,"o2":0.165,"s4":0.088,"s2":0.042},
      {"day":434.75,"s3":0.296,"o2":0.131,"s4":0.083,"s2":0.033},
      {"day":434.9,"s3":0.275,"o2":0.145,"s4":0.12,"s2":0.056},
      {"day":435.2,"s3":0.298,"o2":0.16,"s4":0.1,"s2":0.048},
      {"day":435.35,"s3":0.288,"o2":0.177,"s4":0.133,"s2":0.071},
      {"day":435.5,"s3":0.33,"o2":0.168,"s4":0.115,"s2":0.06},
      {"day":435.8,"s3":0.372,"o2":0.15,"s4":0.13,"s2":0.052},
      {"day":435.95,"s3":0.388,"o2":0.139,"s4":0.087,"s2":0.029},
      {"day":436.1,"s3":0.34,"o2":0.175,"s4":0.098,"s2":0.07},
      {"day":436.4,"s3":0.31,"o2":0.158,"s4":0.122,"s2":0.044},
      {"day":436.55,"s3":0.3,"o2":0.172,"s4":0.146,"s2":0.076},
      {"day":436.7,"s3":0.385,"o2":0.165,"s4":0.106,"s2":0.062},
      {"day":437.0,"s3":0.35,"o2":0.145,"s4":0.128,"s2":0.05},
      {"day":437.15,"s3":0.376,"o2":0.13,"s4":0.08,"s2":0.032},
      {"day":437.3,"s3":0.32,"o2":0.17,"s4":0.094,"s2":0.058},
      {"day":437.6,"s3":0.36,"o2":0.152,"s4":0.118,"s2":0.075},
      {"day":437.75,"s3":0.284,"o2":0.178,"s4":0.135,"s2":0.073},
      {"day":437.9,"s3":0.3,"o2":0.162,"s4":0.11,"s2":0.046},
      {"day":438.2,"s3":0.34,"o2":0.148,"s4":0.132,"s2":0.064},
      {"day":438.35,"s3":0.372,"o2":0.136,"s4":0.084,"s2":0.027},
      {"day":438.5,"s3":0.312,"o2":0.168,"s4":0.1,"s2":0.054},
      {"day":438.8,"s3":0.355,"o2":0.155,"s4":0.12,"s2":0.04},
      {"day":438.95,"s3":0.29,"o2":0.167,"s4":0.141,"s2":0.078},
      {"day":439.1,"s3":0.295,"o2":0.172,"s4":0.09,"s2":0.068},
      {"day":439.4,"s3":0.33,"o2":0.15,"s4":0.115,"s2":0.05},
      {"day":439.55,"s3":0.356,"o2":0.133,"s4":0.078,"s2":0.034},
      {"day":439.7,"s3":0.305,"o2":0.165,"s4":0.124,"s2":0.06},
      {"day":440.0,"s3":0.345,"o2":0.145,"s4":0.102,"s2":0.036},
      {"day":440.15,"s3":0.285,"o2":0.175,"s4":0.136,"s2":0.07},
      {"day":440.3,"s3":0.315,"o2":0.158,"s4":0.118,"s2":0.056},
      {"day":440.6,"s3":0.29,"o2":0.168,"s4":0.096,"s2":0.048},
      {"day":440.75,"s3":0.348,"o2":0.137,"s4":0.082,"s2":0.03},
      {"day":440.9,"s3":0.32,"o2":0.152,"s4":0.11,"s2":0.062},
      {"day":442.2,"s3":0.385,"o2":0.155,"s4":0.193,"s2":0.05},
      {"day":442.35,"s3":0.36,"o2":0.16,"s4":0.13,"s2":0.06},
      {"day":442.5,"s3":0.35,"o2":0.148,"s4":0.178,"s2":0.042},
      {"day":442.8,"s3":0.32,"o2":0.138,"s4":0.12,"s2":0.03},
      {"day":442.95,"s3":0.31,"o2":0.112,"s4":0.082,"s2":0.012},
      {"day":443.1,"s3":0.3,"o2":0.13,"s4":0.105,"s2":0.048},
      {"day":443.4,"s3":0.312,"o2":0.145,"s4":0.095,"s2":0.02},
      {"day":443.55,"s3":0.3,"o2":0.15,"s4":0.128,"s2":0.055},
      {"day":443.7,"s3":0.285,"o2":0.122,"s4":0.112,"s2":0.038},
      {"day":444.0,"s3":0.295,"o2":0.135,"s4":0.088,"s2":0.025},
      {"day":444.15,"s3":0.26,"o2":0.11,"s4":0.078,"s2":0.018},
      {"day":444.3,"s3":0.27,"o2":0.118,"s4":0.1,"s2":0.045},
      {"day":444.6,"s3":0.28,"o2":0.128,"s4":0.108,"s2":0.015},
      {"day":444.75,"s3":0.29,"o2":0.142,"s4":0.12,"s2":0.05},
      {"day":444.9,"s3":0.262,"o2":0.14,"s4":0.085,"s2":0.035},
      {"day":445.2,"s3":0.275,"o2":0.12,"s4":0.098,"s2":0.028},
      {"day":445.35,"s3":0.25,"o2":0.108,"s4":0.075,"s2":0.02},
      {"day":445.5,"s3":0.255,"o2":0.132,"s4":0.08,"s2":0.04},
      {"day":445.8,"s3":0.268,"o2":0.115,"s4":0.09,"s2":0.022},
      {"day":445.95,"s3":0.265,"o2":0.13,"s4":0.11,"s2":0.045}
    ]
  },
  "resolve": {"axis": {"x": "independent", "y": "independent"}},
  "layer": [
    {
      "data": {"name": "obs"},
      "mark": {"type": "point", "shape": "diamond", "filled": false, "size": 34, "strokeWidth": 1, "opacity": 1},
      "encoding": {
        "x": {"field": "day", "type": "quantitative",
              "scale": {"domain": [270, 456], "nice": false, "zero": false},
              "axis": {"orient": "bottom", "values": [270, 300, 330, 360, 367, 396, 426, 456],
                       "labelPadding": 16, "labelFontSize": 22, "labelOverlap": false, "labelBound": false,
                       "labelExpr": "datum.value > 366 ? format(datum.value - 366, 'd') : datum.label"}},
        "y": {"field": "s3", "type": "quantitative",
              "scale": {"domain": [0, 0.6], "nice": false, "zero": true},
              "axis": {"orient": "left", "values": [0, 0.1, 0.2, 0.3, 0.4, 0.5, 0.6], "format": ".1f",
                       "labelPadding": 12, "labelFontSize": 23, "labelFlush": true, "labelOverlap": false}},
        "color": {"datum": "S III 680Å", "type": "nominal",
                  "scale": {"domain": ["S III 680Å", "O II 834Å", "S IV 657Å", "S II 765Å"], "range": ["#00ee00", "#ff0000", "#000000", "#0000ff"]},
                  "legend": {"orient": "none", "legendX": 699, "legendY": 21, "title": null, "strokeColor": "#808080", "padding": 3,
                             "direction": "vertical",
                             "labelFont": "DejaVu Sans", "labelFontSize": 18, "labelColor": "#707070", "labelAlign": "right",
                             "labelOffset": -20, "symbolOffset": 110, "symbolType": "diamond", "symbolSize": 110, "symbolStrokeWidth": 1,
                             "rowPadding": 1, "labelLimit": 200}}
      }
    },
    {
      "data": {"name": "obs"},
      "mark": {"type": "point", "shape": "diamond", "filled": false, "size": 34, "strokeWidth": 1, "opacity": 1},
      "encoding": {
        "x": {"field": "day", "type": "quantitative", "axis": null},
        "y": {"field": "o2", "type": "quantitative", "axis": null},
        "color": {"datum": "O II 834Å", "type": "nominal"}
      }
    },
    {
      "data": {"name": "obs"},
      "mark": {"type": "point", "shape": "diamond", "filled": false, "size": 34, "strokeWidth": 1, "opacity": 1},
      "encoding": {
        "x": {"field": "day", "type": "quantitative",
              "axis": {"orient": "top", "values": [275, 306, 336, 367, 398, 426, 456],
                       "labelPadding": 8, "labelFontSize": 17, "labelOverlap": false, "labelBound": false,
                       "labelExpr": "datum.value == 275 ? '1-Oct-00' : datum.value == 306 ? '1-Nov-00' : datum.value == 336 ? '1-Dec-00' : datum.value == 367 ? '1-Jan-01' : datum.value == 398 ? '1-Feb-01' : datum.value == 426 ? '1-Mar-01' : '1-Apr-01'"}},
        "y": {"field": "s4", "type": "quantitative", "axis": null},
        "color": {"datum": "S IV 657Å", "type": "nominal"}
      }
    },
    {
      "data": {"name": "obs"},
      "mark": {"type": "point", "shape": "diamond", "filled": false, "size": 34, "strokeWidth": 1, "opacity": 1},
      "encoding": {
        "x": {"field": "day", "type": "quantitative", "axis": null},
        "y": {"field": "s2", "type": "quantitative", "axis": null},
        "color": {"datum": "S II 765Å", "type": "nominal"}
      }
    },
    {
      "data": {"name": "ymajor"},
      "mark": {"type": "tick", "orient": "horizontal", "size": 17, "thickness": 1, "color": "#808080", "opacity": 1, "xOffset": 8.5},
      "encoding": {"x": {"datum": 270, "type": "quantitative", "axis": null}, "y": {"field": "v", "type": "quantitative", "axis": null}}
    },
    {
      "data": {"name": "yminor"},
      "mark": {"type": "tick", "orient": "horizontal", "size": 8, "thickness": 1, "color": "#808080", "opacity": 1, "xOffset": 4},
      "encoding": {"x": {"datum": 270, "type": "quantitative", "axis": null}, "y": {"field": "v", "type": "quantitative", "axis": null}}
    },
    {
      "data": {"name": "ymajor"},
      "mark": {"type": "tick", "orient": "horizontal", "size": 17, "thickness": 1, "color": "#808080", "opacity": 1, "xOffset": -8.5},
      "encoding": {"x": {"datum": 456, "type": "quantitative", "axis": null}, "y": {"field": "v", "type": "quantitative", "axis": null}}
    },
    {
      "data": {"name": "yminor"},
      "mark": {"type": "tick", "orient": "horizontal", "size": 8, "thickness": 1, "color": "#808080", "opacity": 1, "xOffset": -4},
      "encoding": {"x": {"datum": 456, "type": "quantitative", "axis": null}, "y": {"field": "v", "type": "quantitative", "axis": null}}
    },
    {
      "data": {"name": "xmajor"},
      "mark": {"type": "tick", "orient": "vertical", "size": 12, "thickness": 1, "color": "#808080", "opacity": 1, "yOffset": -6},
      "encoding": {"x": {"field": "day", "type": "quantitative", "axis": null}, "y": {"datum": 0, "type": "quantitative", "axis": null}}
    },
    {
      "data": {"name": "xminor"},
      "mark": {"type": "tick", "orient": "vertical", "size": 6, "thickness": 1, "color": "#808080", "opacity": 1, "yOffset": -3},
      "encoding": {"x": {"field": "day", "type": "quantitative", "axis": null}, "y": {"datum": 0, "type": "quantitative", "axis": null}}
    },
    {
      "data": {"name": "months"},
      "mark": {"type": "tick", "orient": "vertical", "size": 11, "thickness": 1, "color": "#808080", "opacity": 1, "yOffset": 5.5},
      "encoding": {"x": {"field": "day", "type": "quantitative", "axis": null}, "y": {"datum": 0.6, "type": "quantitative", "axis": null}}
    }
  ]
}
